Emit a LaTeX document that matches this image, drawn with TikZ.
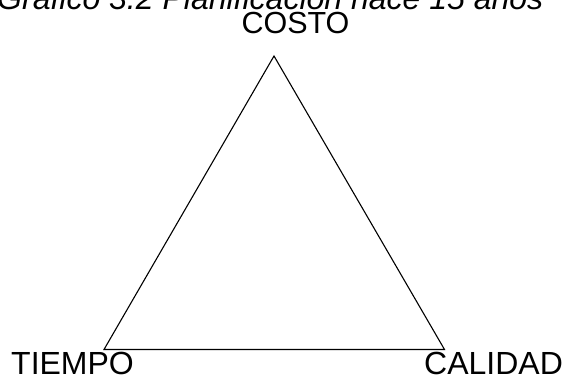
\documentclass[tikz,border=0pt]{standalone}
\usepackage{fontspec}
\setmainfont{Liberation Sans}
\begin{document}
\begin{tikzpicture}[x=1pt,y=-1pt,
  lbl/.style={inner sep=0pt, font=\fontsize{32}{32}\selectfont},
  edge/.style={line width=1.1pt, line join=miter}]
\useasboundingbox (0,0) rectangle (562,376);
\node[lbl, anchor=base west, font=\fontsize{32}{32}\selectfont\itshape] (title) at (-3,9.5) {Gráfico 3.2 Planificación hace 15 años};
\node[lbl, anchor=base, font=\fontsize{30.5}{30.5}\selectfont] (costo) at (295.5,33.5) {COSTO};
\node[lbl, anchor=base west] (tiempo) at (11,374.5) {TIEMPO};
\node[lbl, anchor=base west] (calidad) at (424,374.5) {CALIDAD};
\coordinate (top) at (274,56);
\coordinate (left) at (104,349.5);
\coordinate (right) at (444.5,349.5);
\draw[edge] (top) -- (left) -- (right) -- cycle;
\end{tikzpicture}
\end{document}
